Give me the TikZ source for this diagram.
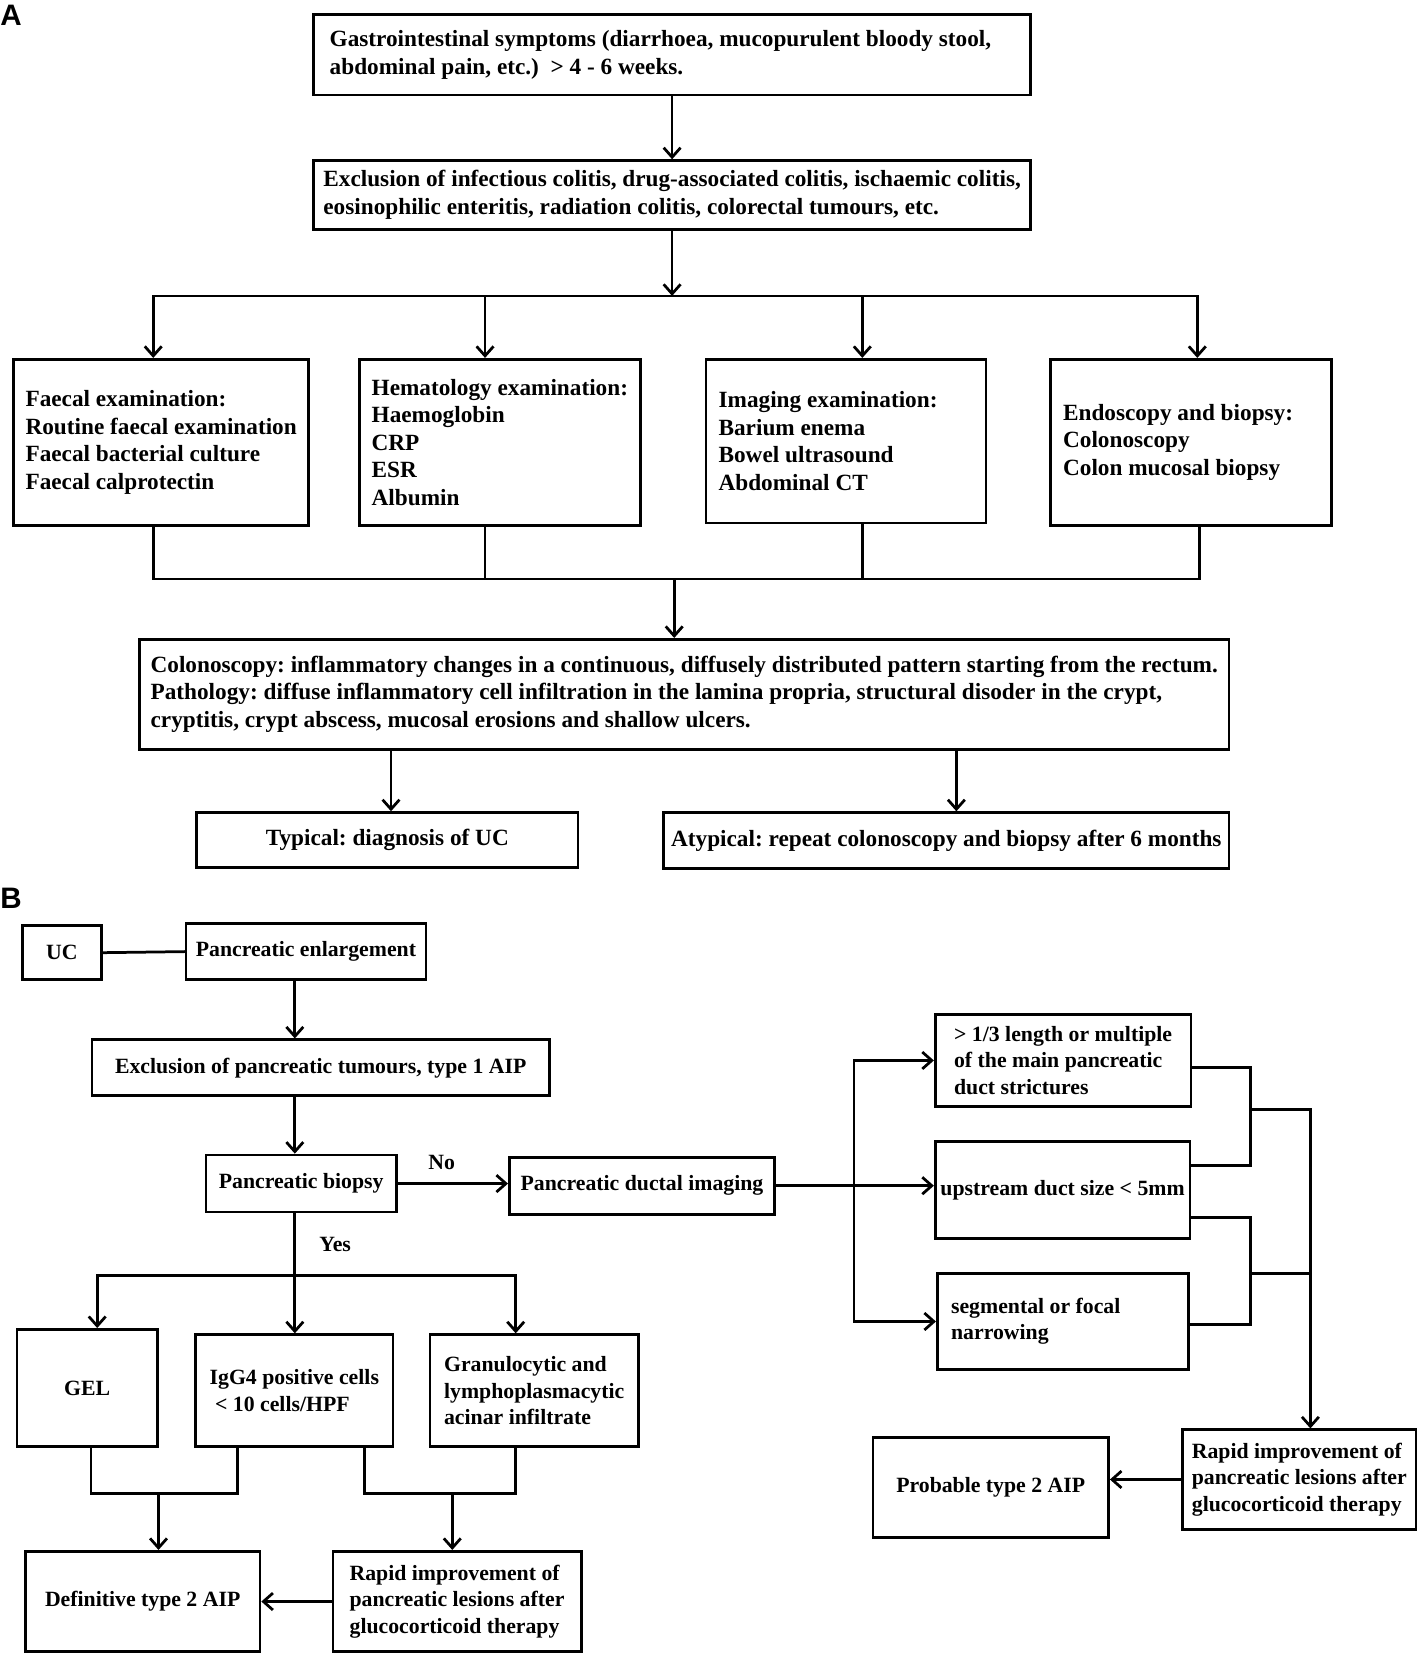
\documentclass[tikz,border=0pt]{standalone}
\usepackage{fontspec}
\setmainfont{Liberation Serif}
\newfontfamily\panelfont{Liberation Sans}
\usetikzlibrary{arrows.meta}
\frenchspacing

\tikzset{
  box/.style={draw, line width=1.3pt, rectangle, inner sep=0pt, align=flush left,
    font=\bfseries\fontsize{11}{13}\selectfont},
  boxb/.style={box, font=\bfseries\fontsize{10.3}{12.5}\selectfont},
  panel/.style={anchor=base west, inner sep=0pt, font=\panelfont\bfseries\fontsize{14}{14}\selectfont},
  link/.style={line width=1.3pt, line cap=rect},
  arr/.style={line width=1.3pt, -{Straight Barb[length=4.5pt,width=8pt]}},
  tag/.style={inner sep=0pt, font=\bfseries\fontsize{10.3}{12.5}\selectfont},
}

\begin{document}
\begin{tikzpicture}[x=0.5pt,y=-0.5pt]
\useasboundingbox (0,0) rectangle (1350,1568);

% Panel A
\node[panel] (labA) at (0,24) {A};

\node[box, minimum width=339pt, minimum height=38pt, text width=324pt] (symp) at (636,52)
  {Gastrointestinal symptoms (diarrhoea, mucopurulent bloody stool,\\abdominal pain, etc.)\ \ > 4 - 6 weeks.};
\node[box, minimum width=339pt, minimum height=32.5pt] (excl) at (636,184.5)
  {Exclusion of infectious colitis, drug-associated colitis, ischaemic colitis,\\eosinophilic enteritis, radiation colitis, colorectal tumours, etc.};

% four examinations
\node[box, minimum width=139.5pt, minimum height=78.5pt] (faecal) at (152.5,418.5)
  {Faecal examination:\\Routine faecal examination\\Faecal bacterial culture\\Faecal calprotectin};
\node[box, minimum width=133pt, minimum height=78.5pt] (hema) at (473,418.5)
  {Hematology examination:\\Haemoglobin\\CRP\\ESR\\Albumin};
\node[box, minimum width=132.5pt, minimum height=77.5pt, text width=120.5pt] (imag) at (800.5,417.5)
  {Imaging examination:\\Barium enema\\Bowel ultrasound\\Abdominal CT};
\node[box, minimum width=133pt, minimum height=78.5pt, text width=121pt] (endo) at (1127,418.5)
  {Endoscopy and biopsy:\\Colonoscopy\\Colon mucosal biopsy};

\node[box, minimum width=515.5pt, minimum height=52pt] (colon) at (647.5,657)
  {Colonoscopy: inflammatory changes in a continuous, diffusely distributed pattern starting from the rectum.\\
   Pathology: diffuse inflammatory cell infiltration in the lamina propria, structural disoder in the crypt,\\
   cryptitis, crypt abscess, mucosal erosions and shallow ulcers.};
\node[box, minimum width=180.5pt, minimum height=26pt] (typ) at (366.5,795) {Typical: diagnosis of UC};
\node[box, minimum width=267.5pt, minimum height=26.5pt] (atyp) at (895.5,795.5)
  {Atypical: repeat colonoscopy and biopsy after 6 months};

\draw[arr] (symp.south) -- (excl.north);
\coordinate (splitL) at (145,280);
\coordinate (splitR) at (1133,280);
\draw[arr] (excl.south) -- (excl.south |- splitL);
\draw[link] (splitL) -- (splitR);
\foreach \n/\x in {faecal/145, hema/459, imag/816, endo/1133}
  \draw[arr] (\x,280) -- (\x,0 |- \n.north);

\coordinate (joinL) at (145,548);
\coordinate (joinR) at (1135,548);
\foreach \n/\x in {faecal/145, hema/459, imag/816, endo/1135}
  \draw[link] (\x,0 |- \n.south) -- (\x,548);
\draw[link] (joinL) -- (joinR);
\draw[arr] (638,548) -- (638,0 |- colon.north);
\draw[arr] (370,0 |- colon.south) -- (370,0 |- typ.north);
\draw[arr] (905,0 |- colon.south) -- (905,0 |- atyp.north);

% Panel B
\node[panel] (labB) at (0,860) {B};

\node[boxb, minimum width=37.5pt, minimum height=25.5pt] (uc) at (58.5,901.5) {UC};
\node[boxb, minimum width=113.5pt, minimum height=26.5pt] (enl) at (289.5,900.5) {Pancreatic enlargement};
\node[boxb, minimum width=216.5pt, minimum height=26.5pt] (exclp) at (303.5,1010.5)
  {Exclusion of pancreatic tumours, type 1 AIP};
\node[boxb, minimum width=90pt, minimum height=27pt] (biopsy) at (285,1120) {Pancreatic biopsy};
\node[boxb, minimum width=125.5pt, minimum height=27pt] (ductal) at (607.5,1122) {Pancreatic ductal imaging};

\node[boxb, minimum width=121pt, minimum height=43.5pt] (len) at (1006,1003.5)
  {> 1/3 length or multiple\\of the main pancreatic\\duct strictures};
\node[boxb, minimum width=120.5pt, minimum height=46pt] (up) at (1005.5,1126) {upstream duct size < 5mm};
\node[boxb, minimum width=119pt, minimum height=45.5pt, text width=106pt] (seg) at (1006,1250.5)
  {segmental or focal\\narrowing};
\node[boxb, minimum width=110.5pt, minimum height=47pt] (rapidR) at (1229.5,1400)
  {Rapid improvement of\\pancreatic lesions after\\glucocorticoid therapy};
\node[boxb, minimum width=111.5pt, minimum height=47.5pt] (prob) at (937.5,1407.5) {Probable type 2 AIP};

\node[boxb, minimum width=66.5pt, minimum height=55.5pt] (gel) at (82.5,1313.5) {GEL};
\node[boxb, minimum width=93.5pt, minimum height=53pt] (igg) at (278.5,1316)
  {IgG4 positive cells\\\ < 10 cells/HPF};
\node[boxb, minimum width=98.5pt, minimum height=53pt] (gran) at (505.5,1316)
  {Granulocytic and\\lymphoplasmacytic\\acinar infiltrate};
\node[boxb, minimum width=111pt, minimum height=47.5pt] (defin) at (135,1515.5) {Definitive type 2 AIP};
\node[boxb, minimum width=117.5pt, minimum height=47.5pt] (rapidL) at (432.5,1515.5)
  {Rapid improvement of\\pancreatic lesions after\\glucocorticoid therapy};

\draw[link] (uc.east) -- (enl.west);
\draw[arr] (279,0 |- enl.south) -- (279,0 |- exclp.north);
\draw[arr] (279,0 |- exclp.south) -- (279,0 |- biopsy.north);
\draw[arr] (biopsy.east) -- (biopsy.east -| ductal.west) node[tag, pos=0.4, above=6pt] {No};

% duct imaging findings
\coordinate (fork) at (808,1122);
\draw[arr] (ductal.east) -- (ductal.east -| up.west);
\draw[arr] (fork) |- (len.west);
\draw[arr] (fork) |- (seg.west);
\draw[link] (len.east |- 0,1010) -- (1183,1010) -- (1183,1103) -- (up.east |- 0,1103);
\draw[link] (up.east |- 0,1152) -- (1183,1152) -- (1183,1253) -- (seg.east |- 0,1253);
\coordinate (gather) at (1240,1050);
\draw[link] (1183,1050) -- (gather);
\draw[link] (1183,1205) -- (1240,1205);
\draw[arr] (gather) -- (1240,0 |- rapidR.north);
\draw[arr] (rapidR.west) -- (rapidR.west -| prob.east);

% biopsy findings
\draw[link] (279,0 |- biopsy.south) -- (279,1207) node[tag, midway, right=11pt] {Yes};
\draw[link] (92,1207) -- (488,1207);
\foreach \n/\x in {gel/92, igg/279, gran/488}
  \draw[arr] (\x,1207) -- (\x,0 |- \n.north);
\draw[link] (86,0 |- gel.south) -- (86,1413) -- (225,1413) -- (225,0 |- igg.south);
\draw[arr] (150,1413) -- (150,0 |- defin.north);
\draw[link] (345,0 |- igg.south) -- (345,1413) -- (488,1413) -- (488,0 |- gran.south);
\draw[arr] (428,1413) -- (428,0 |- rapidL.north);
\draw[arr] (rapidL.west) -- (rapidL.west -| defin.east);

\end{tikzpicture}
\end{document}
